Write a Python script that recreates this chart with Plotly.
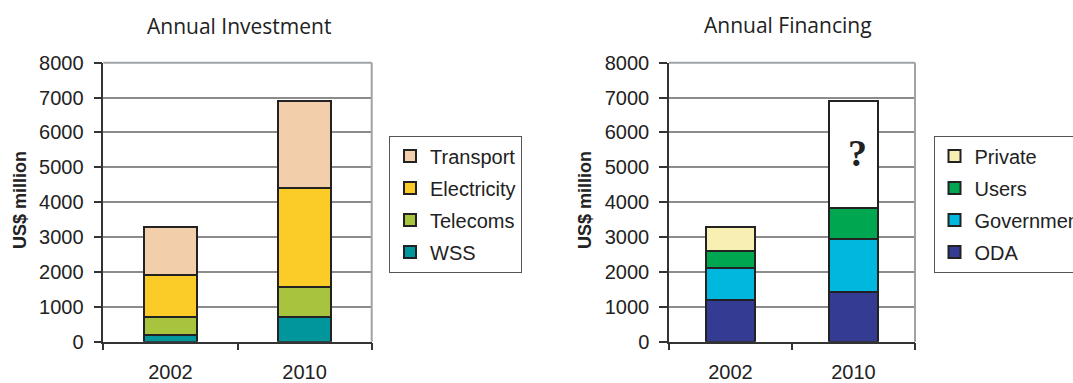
import plotly.graph_objects as go

# Years on the category axis
years = ["2002", "2010"]

# Annual investment by sector (US$ million, stacked segments)
wss = [200, 720]
telecoms = [500, 840]
electricity = [1200, 2840]
transport = [1400, 2500]

# Annual financing by source (US$ million, stacked segments)
oda = [1200, 1430]
government = [900, 1520]
users = [500, 870]
private = [700, None]
financing_gap = [None, 3080]  # 2010 requirement with no identified source

y_ticks = [0, 1000, 2000, 3000, 4000, 5000, 6000, 7000, 8000]

W, H = 1073, 383
FONT = "Liberation Sans, Arial, sans-serif"
OUTLINE = dict(color="#222222", width=2)


def px_x(v):
    return v / W


def px_y(v):
    return (H - v) / H


fig = go.Figure()

# Stack from the bottom up; the legend lists the top segment first
invest_series = [
    ("WSS", wss, "#00969B"),
    ("Telecoms", telecoms, "#A8C43E"),
    ("Electricity", electricity, "#FBCB27"),
    ("Transport", transport, "#F2CEAA"),
]
for i, (name, vals, col) in enumerate(invest_series):
    fig.add_trace(go.Bar(
        x=years, y=vals, name=name, marker=dict(color=col, line=OUTLINE),
        xaxis="x", yaxis="y", legend="legend", legendgroup=name,
        legendrank=1000 - i,
    ))

finance_series = [
    ("ODA", oda, "#333B93"),
    ("Government", government, "#00B7DE"),
    ("Users", users, "#00A650"),
    ("Private", private, "#F8F0B2"),
]
for i, (name, vals, col) in enumerate(finance_series):
    fig.add_trace(go.Bar(
        x=years, y=vals, name=name, marker=dict(color=col, line=OUTLINE),
        xaxis="x2", yaxis="y2", legend="legend2", legendgroup=name,
        legendrank=1000 - i,
    ))
fig.add_trace(go.Bar(
    x=years, y=financing_gap, name="Gap", marker=dict(color="#FFFFFF", line=OUTLINE),
    xaxis="x2", yaxis="y2", showlegend=False,
))

y_dom = [px_y(341.7), px_y(62.7)]

xaxis_common = dict(
    type="category", categoryorder="array", categoryarray=years,
    range=[-0.5, len(years) - 0.5], tickson="boundaries", ticks="outside",
    ticklen=7, tickcolor="#333333", tickwidth=1.5, showline=True,
    linecolor="#333333", linewidth=1.5, showgrid=False, ticklabelstandoff=12,
    automargin=False, tickangle=0,
    tickfont=dict(family=FONT, size=20, color="#222222"),
)
yaxis_common = dict(
    range=[0, 8000], tickvals=y_ticks, ticks="outside", ticklen=8,
    tickcolor="#333333", tickwidth=1.5, showline=True, linecolor="#333333",
    linewidth=1.5, showgrid=True, gridcolor="#8C8C8C", gridwidth=1.5,
    zeroline=False, ticklabelstandoff=6, automargin=False,
    tickfont=dict(family=FONT, size=20, color="#222222"),
)

legend_common = dict(
    traceorder="grouped", bordercolor="#555555", borderwidth=1,
    bgcolor="#FFFFFF", font=dict(family=FONT, size=20, color="#222222"),
    xanchor="left", yanchor="top", tracegroupgap=3, itemwidth=30,
)

fig.update_layout(
    width=W, height=H, margin=dict(l=0, r=0, t=0, b=0, autoexpand=False),
    paper_bgcolor="#FFFFFF", plot_bgcolor="#FFFFFF",
    barmode="stack", bargap=0.6,
    xaxis=dict(domain=[px_x(103.3), px_x(371.7)], anchor="y", **xaxis_common),
    yaxis=dict(domain=y_dom, anchor="x", **yaxis_common),
    xaxis2=dict(domain=[px_x(669), px_x(915)], anchor="y2", **xaxis_common),
    yaxis2=dict(domain=y_dom, anchor="x2", **yaxis_common),
    legend=dict(x=px_x(389), y=px_y(135.5), **legend_common),
    legend2=dict(x=px_x(933.5), y=px_y(135.5), **legend_common),
    showlegend=True,
)

# Light frame on the top and right edges of each plot area
for xd, yd in (("x domain", "y domain"), ("x2 domain", "y2 domain")):
    fig.add_shape(type="line", xref=xd, yref=yd, x0=0, x1=1, y0=1, y1=1,
                  line=dict(color="#9EA3A6", width=2))
    fig.add_shape(type="line", xref=xd, yref=yd, x0=1, x1=1, y0=0, y1=1,
                  line=dict(color="#9EA3A6", width=2))

# Chart titles
fig.add_annotation(text="Annual Investment", xref="paper", yref="paper",
                   x=px_x(239), y=px_y(26), xanchor="center", yanchor="middle",
                   showarrow=False,
                   font=dict(family="Open Sans, sans-serif", size=21, color="#222222"))
fig.add_annotation(text="Annual Financing", xref="paper", yref="paper",
                   x=px_x(787.5), y=px_y(25), xanchor="center", yanchor="middle",
                   showarrow=False,
                   font=dict(family="Open Sans, sans-serif", size=21, color="#222222"))

# Axis titles
for xc in (20, 585):
    fig.add_annotation(text="<b>US$ million</b>", xref="paper", yref="paper",
                       x=px_x(xc), y=px_y(200), xanchor="center", yanchor="middle",
                       textangle=-90, showarrow=False,
                       font=dict(family=FONT, size=18, color="#222222"))

# Question mark on the unfunded 2010 share
fig.add_annotation(text="<b>?</b>", xref="x2", yref="y2", x=1, y=5400,
                   xanchor="center", yanchor="middle", showarrow=False, xshift=4,
                   font=dict(family="Liberation Serif, Times New Roman, serif",
                             size=38, color="#222222"))

fig.write_html("out.html")
